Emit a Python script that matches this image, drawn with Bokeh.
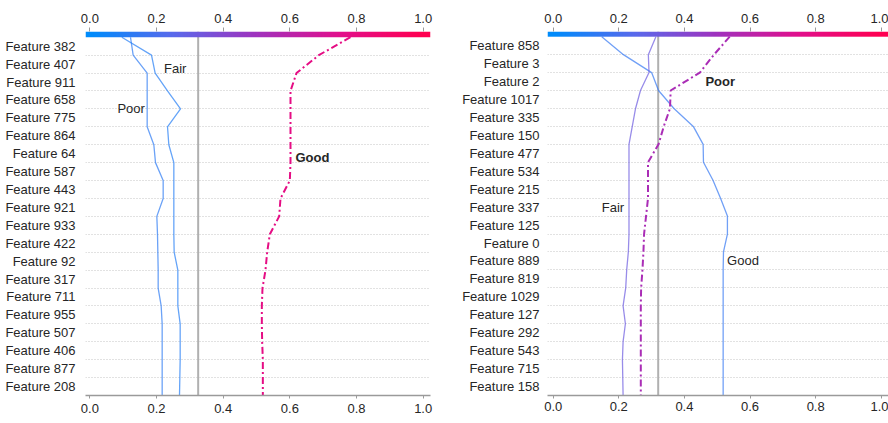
import numpy as np
from bokeh.plotting import figure
from bokeh.layouts import row
from bokeh.models import Range1d, LinearAxis, FixedTicker, Span, LinearColorMapper
from bokeh.core.properties import value
from bokeh.embed import file_html
from bokeh.resources import INLINE

# ---------------- data ----------------
# features listed top -> bottom
left_features = ["Feature 382", "Feature 407", "Feature 911", "Feature 658", "Feature 775",
                 "Feature 864", "Feature 64", "Feature 587", "Feature 443", "Feature 921",
                 "Feature 933", "Feature 422", "Feature 92", "Feature 317", "Feature 711",
                 "Feature 955", "Feature 507", "Feature 406", "Feature 877", "Feature 208"]
# model output at each feature boundary, from top (prediction) to bottom (base)
left_poor = [0.122, 0.130, 0.172, 0.172, 0.172, 0.172, 0.192, 0.197, 0.220, 0.220, 0.201,
             0.203, 0.204, 0.205, 0.205, 0.214, 0.217, 0.217, 0.217, 0.217, 0.217]
left_fair = [0.096, 0.185, 0.196, 0.233, 0.272, 0.233, 0.237, 0.252, 0.252, 0.252, 0.252,
             0.252, 0.253, 0.264, 0.264, 0.264, 0.271, 0.271, 0.271, 0.270, 0.269]
left_good = [0.782, 0.687, 0.620, 0.602, 0.602, 0.602, 0.602, 0.602, 0.600, 0.572, 0.568,
             0.540, 0.532, 0.527, 0.518, 0.516, 0.516, 0.517, 0.519, 0.519, 0.519]
left_base_value = 0.325

right_features = ["Feature 858", "Feature 3", "Feature 2", "Feature 1017", "Feature 335",
                  "Feature 150", "Feature 477", "Feature 534", "Feature 215", "Feature 337",
                  "Feature 125", "Feature 0", "Feature 889", "Feature 819", "Feature 1029",
                  "Feature 127", "Feature 292", "Feature 543", "Feature 715", "Feature 158"]
right_good = [0.148, 0.214, 0.300, 0.321, 0.368, 0.427, 0.457, 0.458, 0.487, 0.510, 0.531,
              0.531, 0.519, 0.518, 0.518, 0.518, 0.518, 0.518, 0.518, 0.518, 0.518]
right_fair = [0.313, 0.290, 0.292, 0.266, 0.251, 0.241, 0.231, 0.231, 0.231, 0.231, 0.231,
              0.231, 0.229, 0.224, 0.221, 0.213, 0.220, 0.213, 0.211, 0.212, 0.213]
right_poor = [0.538, 0.490, 0.447, 0.358, 0.356, 0.337, 0.321, 0.289, 0.289, 0.289, 0.283,
              0.277, 0.275, 0.272, 0.268, 0.267, 0.267, 0.267, 0.267, 0.267, 0.267]
right_base_value = 0.320

x_ticks = [0.0, 0.2, 0.4, 0.6, 0.8, 1.0]
x_tick_labels = ["0.0", "0.2", "0.4", "0.6", "0.8", "1.0"]

# ---------------- colours ----------------
STOPS = [(0.0, (0, 139, 251)), (0.25, (90, 105, 235)), (0.5, (160, 50, 190)),
         (0.75, (225, 15, 140)), (1.0, (255, 0, 81))]


def cmap(t):
    t = min(max(t, 0.0), 1.0)
    for (t0, c0), (t1, c1) in zip(STOPS[:-1], STOPS[1:]):
        if t <= t1:
            f = (t - t0) / (t1 - t0)
            return "#%02x%02x%02x" % tuple(int(round(a + (b - a) * f)) for a, b in zip(c0, c1))
    return "#ff0051"


palette = [cmap(i / 255) for i in range(256)]
FONT = "Liberation Sans"
FS = "13px"
TXT = "#262626"


def style_x(ax, standoff, tick_out):
    ax.ticker = FixedTicker(ticks=x_ticks)
    ax.major_label_overrides = {t: s for t, s in zip(x_ticks, x_tick_labels)}
    ax.major_tick_line_color = "#9a9a9a"
    ax.major_tick_in = 0
    ax.major_tick_out = tick_out
    ax.minor_tick_line_color = None
    ax.major_label_standoff = standoff
    ax.major_label_text_font = FONT
    ax.major_label_text_font_size = FS
    ax.major_label_text_color = TXT


def make_panel(features, lines, labels, base_value, width, x_start, x_end, y_end,
               b_left, b_right, b_top, b_bottom, y_standoff, bottom_standoff):
    n = len(features)
    p = figure(width=width, height=423, x_range=Range1d(x_start, x_end),
               y_range=Range1d(0, y_end), output_backend="svg", toolbar_location=None,
               min_border_left=b_left, min_border_right=b_right,
               min_border_top=b_top, min_border_bottom=b_bottom)
    p.outline_line_color = None
    p.background_fill_color = "white"
    p.xgrid.visible = False
    p.ygrid.ticker = FixedTicker(ticks=list(range(1, n)))
    p.ygrid.grid_line_color = "#c4c4c4"
    p.ygrid.grid_line_dash = "1 2"
    p.ygrid.grid_line_width = 1

    # y axis with feature names between grid lines
    yt = [n - 0.5 - i for i in range(n)]
    p.yaxis.ticker = FixedTicker(ticks=yt)
    p.yaxis.major_label_overrides = {t: f for t, f in zip(yt, features)}
    p.yaxis.axis_line_color = None
    p.yaxis.major_tick_line_color = None
    p.yaxis.minor_tick_line_color = None
    p.yaxis.major_label_standoff = y_standoff
    p.yaxis.major_label_text_font = FONT
    p.yaxis.major_label_text_font_size = FS
    p.yaxis.major_label_text_color = TXT

    # bottom axis
    xb = p.xaxis[0]
    style_x(xb, bottom_standoff, 3)
    xb.axis_line_color = "#9a9a9a"
    xb.axis_line_width = 1.5

    # top axis over the colour bar
    xt = LinearAxis()
    style_x(xt, 5, 4)
    xt.axis_line_color = None
    p.add_layout(xt, "above")

    # base value line
    p.add_layout(Span(location=base_value, dimension="height", line_color="#b0b0b0",
                      line_width=2, level="underlay"))

    # colour bar
    mapper = LinearColorMapper(palette=palette, low=0, high=1)
    p.image(image=[np.linspace(x_start, x_end, 500)[None, :]], x=x_start, y=n,
            dw=x_end - x_start, dh=y_end - n, color_mapper=mapper)

    ys = [n - k for k in range(n + 1)]
    for vals, dashed in lines:
        col = cmap(vals[0])
        if dashed:
            p.line(vals, ys, line_color=col, line_width=2, line_dash="7 3 2 3")
        else:
            p.line(vals, ys, line_color=col, line_width=1.3, line_alpha=0.7)

    for txt, x, y, align, bold in labels:
        p.text(x=[x], y=[y], text=[txt], text_align=align, text_baseline="middle",
               text_font=value(FONT), text_font_size=FS, text_color=TXT,
               text_font_style="bold" if bold else "normal")
    return p


left = make_panel(
    left_features,
    [(left_poor, False), (left_fair, False), (left_good, True)],
    [("Fair", 0.256, 18.26, "center", False), ("Poor", 0.124, 16.0, "center", False),
     ("Good", 0.617, 13.26, "left", True)],
    left_base_value, 440, -0.013, 1.022, 20.32, 85, 10, 27, 28, 4, 5)

right = make_panel(
    right_features,
    [(right_good, False), (right_fair, False), (right_poor, True)],
    [("Poor", 0.464, 17.48, "left", True), ("Fair", 0.182, 10.47, "center", False),
     ("Good", 0.530, 7.51, "left", False)],
    right_base_value, 448, -0.0174, 1.022, 20.29, 107, 0, 31, 26, 2, 3)

layout = row(left, right)
open("out.html", "w").write(file_html(layout, INLINE))
